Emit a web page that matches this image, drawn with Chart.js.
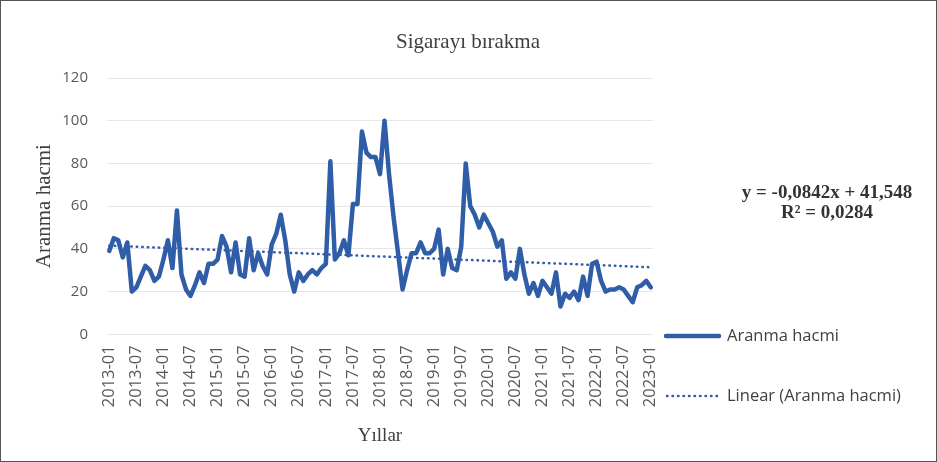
<!DOCTYPE html>
<html>
<head>
<meta charset="utf-8">
<script src="https://cdn.jsdelivr.net/npm/chart.js@4/dist/chart.umd.min.js"></script>
<style>
  html, body { margin: 0; padding: 0; background: #fff; }
  #wrap { position: relative; width: 937px; height: 462px; box-sizing: border-box; border: 1px solid #555; }
</style>
</head>
<body>
<div id="wrap"><canvas id="searchChart"></canvas></div>
<script>
// Sigarayı bırakma - aylık arama hacmi 2013-01 .. 2023-01

const years = [2013, 2014, 2015, 2016, 2017, 2018, 2019, 2020, 2021, 2022, 2023];
const months = ["01", "02", "03", "04", "05", "06", "07", "08", "09", "10", "11", "12"];

const volume = [
  39, 45, 44, 36, 43, 20, 22, 27, 32, 30, 25, 27,
  35, 44, 31, 58, 28, 21, 18, 23, 29, 24, 33, 33,
  35, 46, 41, 29, 43, 28, 27, 45, 30, 38, 32, 28,
  42, 47, 56, 44, 28, 20, 29, 25, 28, 30, 28, 31,
  33, 81, 35, 38, 44, 37, 61, 61, 95, 85, 83, 83,
  75, 100, 75, 55, 38, 21, 30, 38, 38, 43, 38, 38,
  40, 49, 28, 40, 31, 30, 41, 80, 60, 56, 50, 56,
  52, 48, 41, 44, 26, 29, 26, 40, 28, 19, 24, 18,
  25, 22, 19, 29, 13, 19, 17, 20, 16, 27, 18, 33,
  34, 25, 20, 21, 21, 22, 21, 18, 15, 22, 23, 25,
  22
];

// trend line end points (y = -0,0842x + 41,548)
const trendStart = 41.5;
const trendEnd = 31.4;

const chartTitle = "Sigarayı bırakma";
const equationLines = ["y = -0,0842x + 41,548", "R² = 0,0284"];

const labels = [];
years.forEach((y) => {
  months.forEach((m) => {
    if (labels.length < volume.length) labels.push(y + "-" + m);
  });
});

const trend = volume.map(() => null);
trend[0] = trendStart;
trend[trend.length - 1] = trendEnd;

const blue = "#2f5da8";
const textGray = "#404040";

// title, legend + equation (drawn over the whole canvas width)
const sideNotes = {
  id: "sideNotes",
  afterDraw(chart) {
    const ctx = chart.ctx;
    ctx.save();

    ctx.fillStyle = textGray;
    ctx.font = "21px 'Liberation Serif'";
    ctx.textAlign = "center";
    ctx.textBaseline = "middle";
    ctx.fillText(chartTitle, 467, 41);

    ctx.strokeStyle = blue;
    ctx.lineCap = "round";

    ctx.lineWidth = 4.5;
    ctx.beginPath();
    ctx.moveTo(665, 335);
    ctx.lineTo(718, 335);
    ctx.stroke();

    ctx.lineWidth = 2.5;
    ctx.setLineDash([0.5, 5]);
    ctx.beginPath();
    ctx.moveTo(666, 395);
    ctx.lineTo(718, 395);
    ctx.stroke();
    ctx.setLineDash([]);

    ctx.fillStyle = textGray;
    ctx.font = "16.5px 'Open Sans'";
    ctx.textAlign = "left";
    ctx.fillText("Aranma hacmi", 726, 335);
    ctx.fillText("Linear (Aranma hacmi)", 726, 395);

    ctx.font = "bold 19px 'Liberation Serif'";
    ctx.textAlign = "center";
    ctx.fillStyle = "#333";
    ctx.fillText(equationLines[0], 826, 192);
    ctx.fillText(equationLines[1], 826, 212);
    ctx.restore();
  },
};

const searchChart = document.getElementById("searchChart").getContext("2d");

new Chart(searchChart, {
  type: "line",
  data: {
    labels: labels,
    datasets: [
      {
        label: "Aranma hacmi",
        data: volume,
        borderColor: blue,
        borderWidth: 4.5,
        pointRadius: 0,
        tension: 0,
        borderJoinStyle: "round",
        borderCapStyle: "round",
        fill: false,
      },
      {
        label: "Linear (Aranma hacmi)",
        data: trend,
        borderColor: blue,
        borderWidth: 2.5,
        borderDash: [0.5, 5],
        borderCapStyle: "round",
        pointRadius: 0,
        spanGaps: true,
        fill: false,
      },
    ],
  },
  options: {
    responsive: true,
    maintainAspectRatio: false,
    animation: false,
    layout: {
      padding: { left: 27, right: 283, top: 77, bottom: 10 },
    },
    scales: {
      x: {
        offset: true,
        grid: { display: false, drawTicks: false },
        border: { display: false },
        ticks: {
          autoSkip: false,
          minRotation: 90,
          maxRotation: 90,
          padding: 11,
          color: "#595959",
          font: { family: "'Open Sans'", size: 16.5 },
          callback: function (value, index) {
            return index % 6 === 0 ? labels[index] : null;
          },
        },
        title: {
          display: true,
          text: "Yıllar",
          color: textGray,
          font: { family: "'Liberation Serif'", size: 19 },
          padding: { top: 6 },
        },
      },
      y: {
        min: 0,
        max: 120,
        afterFit: (scale) => {
          scale.width = 79;
        },
        ticks: {
          stepSize: 20,
          padding: 19,
          color: "#595959",
          font: { family: "'Open Sans'", size: 15 },
        },
        grid: { color: "#e6e6e6", lineWidth: 1, drawTicks: false },
        border: { display: false },
        title: {
          display: true,
          text: "Aranma hacmi",
          color: textGray,
          font: { family: "'Liberation Serif'", size: 21 },
          padding: 4,
        },
      },
    },
    plugins: {
      legend: { display: false },
      tooltip: { enabled: false },
      title: { display: false },
    },
  },
  plugins: [sideNotes],
});
</script>
</body>
</html>
